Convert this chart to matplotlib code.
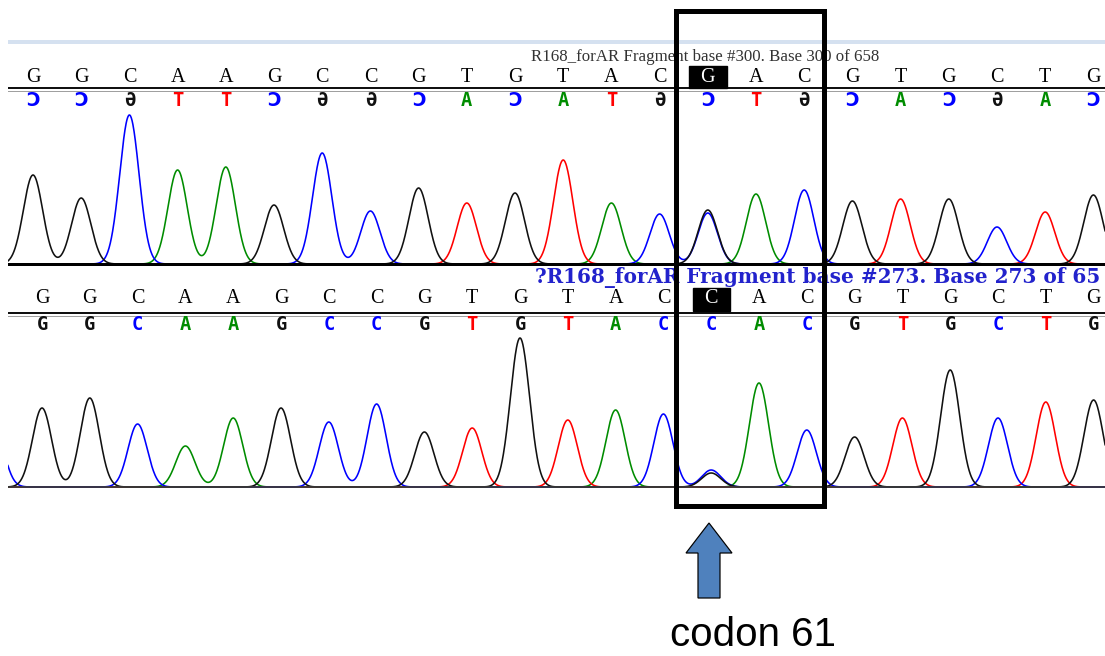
import numpy as np
import matplotlib
matplotlib.use("Agg")
import matplotlib.pyplot as plt
from matplotlib.patches import Rectangle, Polygon

# ---------------- data ----------------
top_bases = list("GGCAAGCCGTGTACGACGTGCTG")
top_heights = [89, 66, 149, 94, 97, 59, 111, 53, 76, 61, 71, 104, 61, 50,
               54, 70, 74, 63, 65, 65, 37, 52, 69]
top_extra = [(14, 'C', 51)]            # secondary peak under codon 61
top_title = "R168_forAR Fragment base #300. Base 300 of 658"

bottom_bases = list("GGCAAGCCGTGTACCACGTGCTG")
bottom_heights = [79, 89, 63, 41, 69, 79, 65, 83, 55, 59, 149, 67, 77, 73,
                  17, 104, 57, 50, 69, 117, 69, 85, 87]
bottom_extra = [(14, 'G', 14), (-1, 'C', 60)]
bottom_title = "?R168_forAR Fragment base #273. Base 273 of 65"

highlight_index = 14
codon_label = "codon 61"

chan_color = {'A': '#008c00', 'C': '#0000ff', 'G': '#111111', 'T': '#ff0000'}
complement = {'A': 'T', 'C': 'G', 'G': 'C', 'T': 'A'}
mirror_glyph = {'A': 'A', 'T': 'T', 'C': '\u2183', 'G': '\u018F'}

# ---------------- layout ----------------
W, H = 1105, 656
fig = plt.figure(figsize=(W / 100, H / 100), dpi=100)
fig.patch.set_facecolor('white')
PX = 0.72  # points per pixel


def px_axes(x0, y0, x1, y1):
    return fig.add_axes([x0 / W, 1 - y1 / H, (x1 - x0) / W, (y1 - y0) / H])


def draw_trace(ax, bases, heights, extras, x0, step, sigma,
               base_color, base_lw):
    xl = ((8 - x0) / step, (W - x0) / step)
    ax.set_xlim(*xl)
    xs = np.linspace(xl[0] - 1, xl[1] + 1, 3000)
    peaks = [(i, b, h) for i, (b, h) in enumerate(zip(bases, heights))] + list(extras)
    for ch in ['A', 'T', 'C', 'G']:
        sig = np.zeros_like(xs)
        for i, b, h in peaks:
            if b == ch:
                sig += h * np.exp(-0.5 * ((xs - i) / sigma) ** 2)
        ax.plot(xs, sig, color=chan_color[ch], lw=1.6 * PX, zorder=3,
                solid_joinstyle='round')
    ax.axhline(0, color=base_color, lw=base_lw * PX, zorder=4)
    ax.axis('off')


# ---- top panel ----
tb = 264
axt = px_axes(8, 30, W, 270)
axt.set_ylim(tb - 270, tb - 30)
draw_trace(axt, top_bases, top_heights, top_extra, 33, 48.2, 0.2,
           '#000000', 3.0)
axt.axhline(tb - 42, color='#d5e1f0', lw=4 * PX, zorder=1)
axt.axhline(tb - 88, color='#111111', lw=2 * PX, zorder=1)
axt.axhline(tb - 90.5, color='#a0a0a0', lw=1 * PX, zorder=1)
for i, b in enumerate(top_bases):
    col = 'white' if i == highlight_index else 'black'
    if i == highlight_index:
        axt.add_patch(Rectangle((i - 0.39, tb - 88), 0.78, 22, color='black',
                                zorder=2, clip_on=False))
    axt.text(i, tb - 77, b, family='Liberation Serif', fontsize=14.5,
             color=col, ha='center', va='center', zorder=3, clip_on=False)
    comp = complement[b]
    axt.text(i, tb - 100, mirror_glyph[comp],
             family=['DejaVu Sans Mono', 'DejaVu Sans'], fontweight='bold',
             fontsize=13.5, color=chan_color[comp], ha='center', va='center',
             clip_on=False)

# ---- bottom panel ----
bb = 487
axb = px_axes(8, 268, W, 495)
axb.set_ylim(bb - 495, bb - 268)
draw_trace(axb, bottom_bases, bottom_heights, bottom_extra, 42, 47.8,
           0.2, '#3a3a3a', 1.8)
axb.axhline(bb - 313, color='#111111', lw=2 * PX, zorder=1)
axb.axhline(bb - 315.5, color='#a0a0a0', lw=1 * PX, zorder=1)
for i, b in enumerate(bottom_bases):
    col = 'white' if i == highlight_index else 'black'
    if i == highlight_index:
        axb.add_patch(Rectangle((i - 0.39, bb - 311), 0.78, 23, color='black',
                                zorder=2, clip_on=False))
    axb.text(i, bb - 299, b, family='Liberation Serif', fontsize=14.5,
             color=col, ha='center', va='center', zorder=3, clip_on=False)
    axb.text(i, bb - 325, b, family='DejaVu Sans Mono', fontweight='bold',
             fontsize=13.5, color=chan_color[b], ha='center', va='center',
             clip_on=False)

# ---- overlay (titles, box, arrow, label) ----
ov = fig.add_axes([0, 0, 1, 1])
ov.set_xlim(0, W)
ov.set_ylim(H, 0)
ov.axis('off')
ov.patch.set_alpha(0)
ov.text(705, 57, top_title, family='Liberation Serif', fontsize=12.2,
        color='#333333', ha='center', va='center', zorder=1)
ov.text(1100, 277, bottom_title, family='DejaVu Serif', fontweight='bold',
        fontsize=14.4, color='#2222cc', ha='right', va='center', zorder=1)
ov.add_patch(Rectangle((675.5, 10.5), 148, 495, fill=False, lw=5 * PX,
                       edgecolor='black', joinstyle='miter', zorder=5))
ov.add_patch(Polygon([(709, 523), (732, 553), (720, 553), (720, 598),
                      (698, 598), (698, 553), (686, 553)], closed=True,
                     facecolor='#4f81bd', edgecolor='black', lw=1.2 * PX,
                     zorder=5))
ov.text(670, 646, codon_label, family='Liberation Sans', fontsize=29,
        color='black', ha='left', va='baseline', zorder=5)

fig.savefig('out.png', dpi=100)
